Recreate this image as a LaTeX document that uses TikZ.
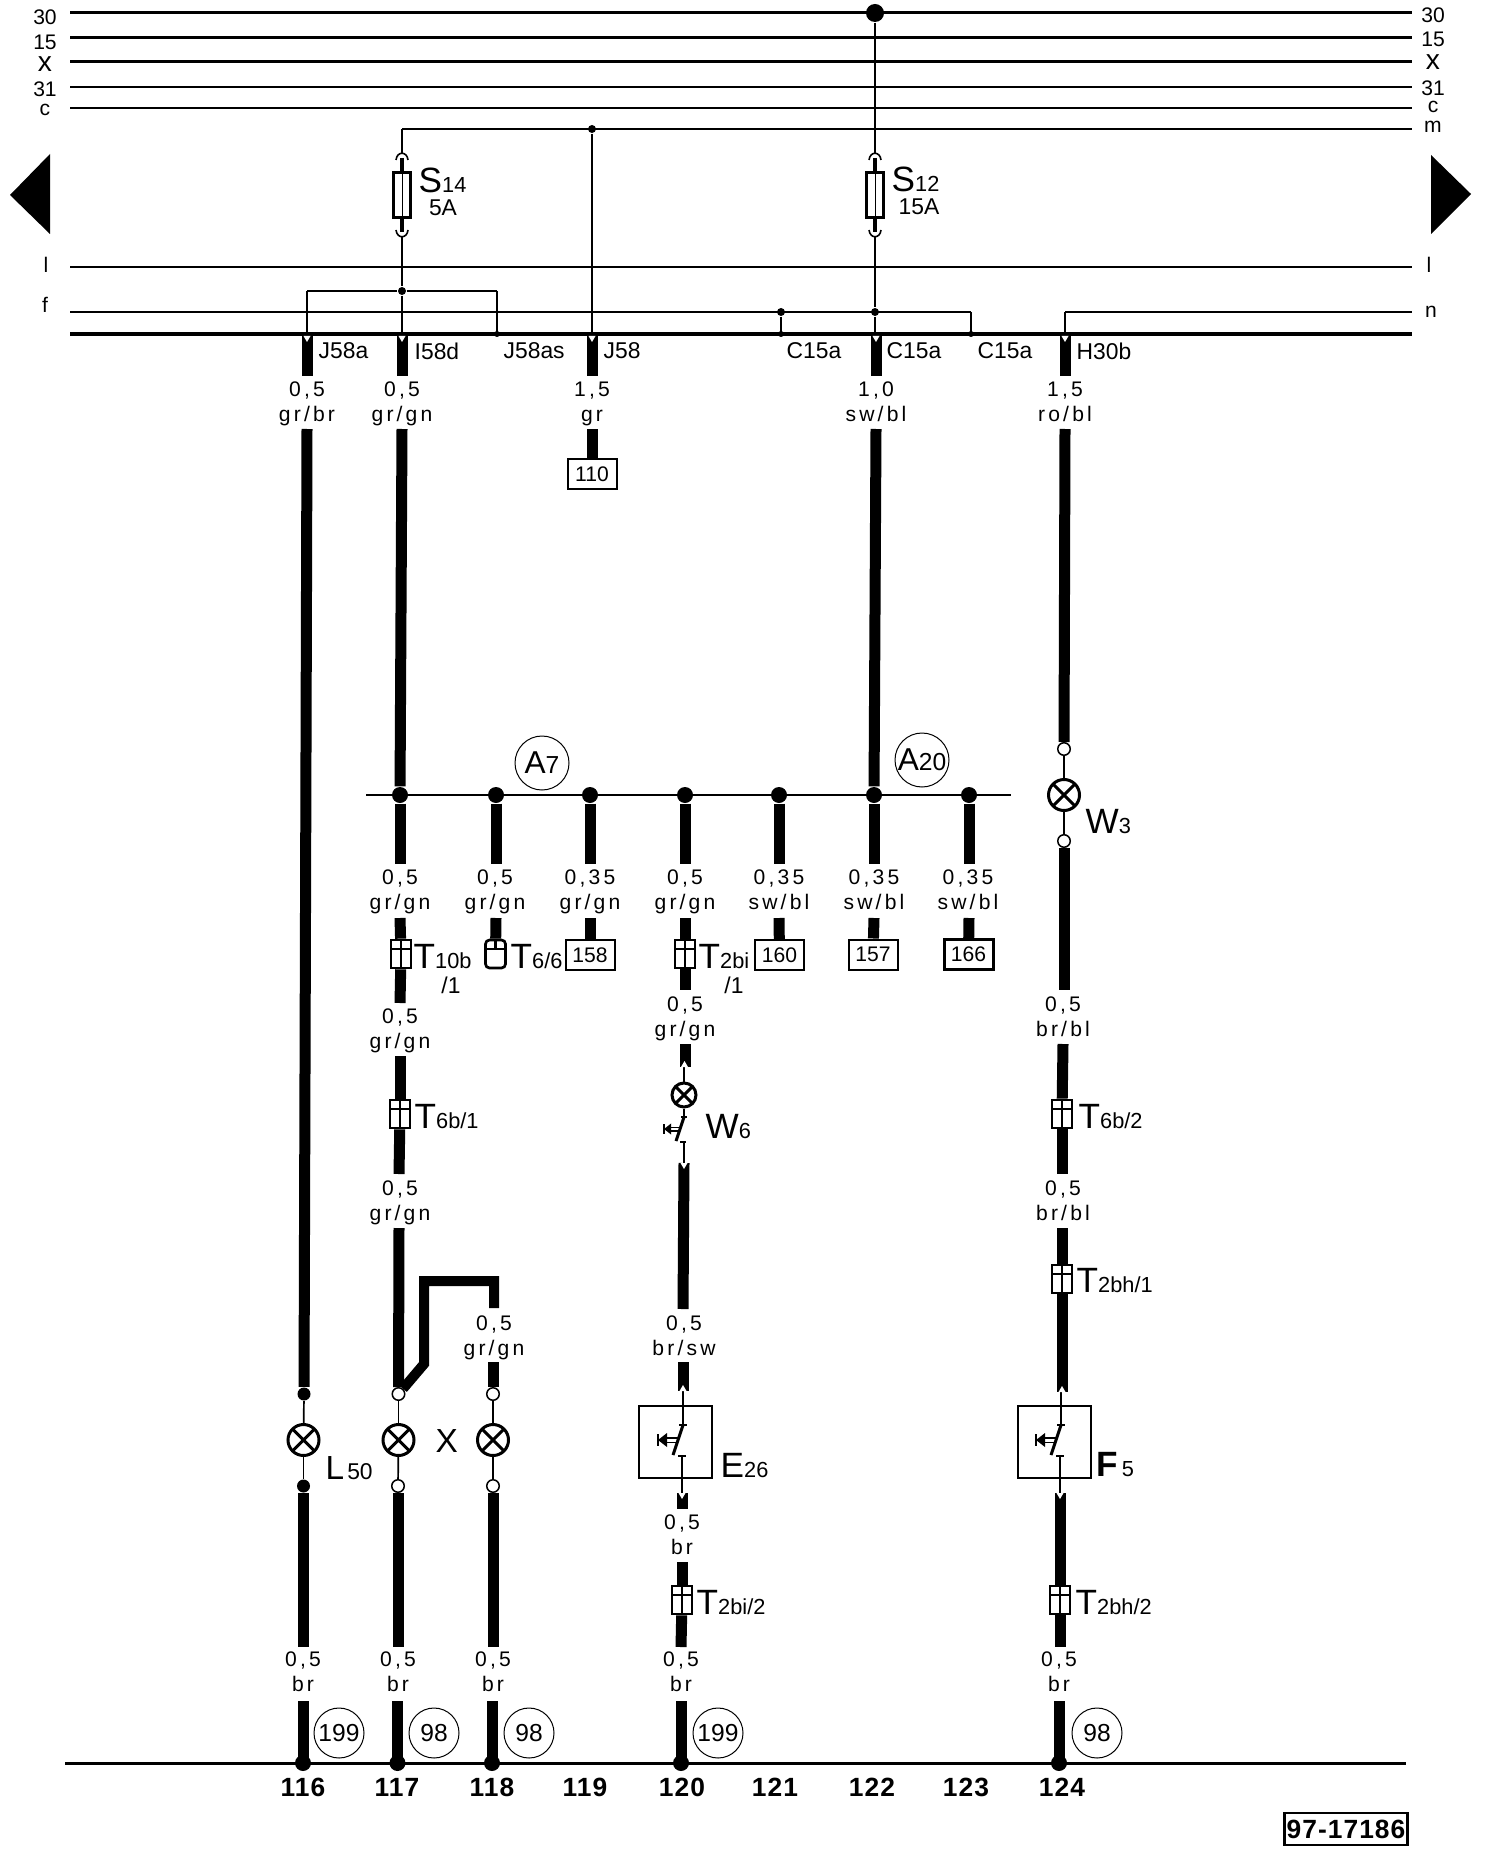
\documentclass[tikz,border=0pt]{standalone}
\usepackage{fontspec}
\setmainfont{Liberation Sans}
\newfontfamily\wirefont[LetterSpace=15]{Liberation Sans}
\newfontfamily\numfont[LetterSpace=4]{Liberation Sans}
\newcommand{\bigsub}[2]{\fontsize{10}{10}\selectfont #1\fontsize{6.2}{7}\selectfont #2}
\tikzset{
  wire/.style={line width=1.1mm},
  bus/.style={line width=.3mm},
  thinw/.style={line width=.17mm},
  busl/.style={font=\fontsize{6}{7}\selectfont,inner sep=0pt},
  pinl/.style={font=\fontsize{6.5}{7}\selectfont,anchor=west,inner sep=0pt},
  wlabel/.style={font=\wirefont\fontsize{6}{7}\selectfont,align=center,inner sep=0pt,yshift=-.3mm,execute at end node={\vphantom{g}}},
  tag/.style={anchor=base west,inner sep=0pt},
  smalltag/.style={font=\fontsize{6.5}{7}\selectfont,inner sep=0pt},
  colnum/.style={font=\numfont\bfseries\fontsize{7.5}{8}\selectfont,inner sep=0pt},
  refcircle/.style={circle,draw,line width=.1mm,minimum size=5mm,inner sep=0pt,font=\fontsize{7}{8}\selectfont},
  loccircle/.style={circle,draw,line width=.1mm,minimum size=5.4mm,inner sep=0pt,font=\fontsize{9}{9}\selectfont},
  refbox/.style={rectangle,draw,line width=.2mm,fill=white,minimum width=4.9mm,minimum height=3mm,inner sep=0pt,font=\fontsize{6}{7}\selectfont},
  junc/.style={circle,fill,inner sep=0pt,minimum size=.8mm},
  bigdot/.style={circle,fill,inner sep=0pt,minimum size=1.6mm},
  opendot/.style={circle,draw,fill=white,line width=.15mm,inner sep=0pt,minimum size=1.25mm},
  lamp/.style={circle,draw,fill=white,line width=.3mm,inner sep=0pt,minimum size=3.1mm,
    path picture={\draw[line width=.3mm] (path picture bounding box.north west) -- (path picture bounding box.south east)
      (path picture bounding box.north east) -- (path picture bounding box.south west);}},
  conn/.style={rectangle,draw,fill=white,line width=.27mm,inner sep=0pt,minimum width=2mm,minimum height=2.8mm,
    path picture={\draw[line width=.2mm] (path picture bounding box.north) -- (path picture bounding box.south)
      ([yshift=-.9mm]path picture bounding box.north west) -- ([yshift=-.9mm]path picture bounding box.north east);}},
  connb/.style={rectangle,draw,fill=white,rounded corners=.4mm,line width=.27mm,inner sep=0pt,minimum width=2mm,minimum height=2.8mm,
    path picture={\draw[line width=.25mm] (path picture bounding box.north) -- ([yshift=-.9mm]path picture bounding box.north)
      ([yshift=-.9mm]path picture bounding box.north west) -- ([yshift=-.9mm]path picture bounding box.north east);}},
  fuse/.style={rectangle,draw,fill=white,line width=.22mm,inner sep=0pt,minimum width=1.7mm,minimum height=4.5mm,
    path picture={\draw[line width=.1mm] (path picture bounding box.north) -- (path picture bounding box.south);}},
  swbox/.style={rectangle,draw,line width=.2mm,minimum width=7.3mm,minimum height=7.2mm,inner sep=0pt},
  fusecap/.pic={
    \draw[line width=.16mm] (-6,7) .. controls (-5,-2) and (5,-2) .. (6,7);
    \draw[line width=.35mm] (0,5) -- (0,20);},
  swsym/.pic={
    \draw[line width=.3mm] (0,0) -- (-10,30);
    \draw[line width=.22mm] (-4,0) -- (4,0);
    \draw[line width=.17mm] (-16,13) -- (-4,13) (-16,17.5) -- (-6,17.5);
    \fill (-16,8) -- (-25,15) -- (-16,22) -- cycle;
    \draw[line width=.25mm] (-25,9) -- (-25,21);
    \draw[line width=.22mm] (-5,31) -- (3,31);},
  wnotch/.pic={\fill[white] (-3.5,0) -- (0,-6) -- (3.5,0) -- cycle;},
}
\begin{document}
\begin{tikzpicture}[x=0.1mm,y=-0.1mm]
  \useasboundingbox (0,0) rectangle (1488,1852);

  % bus lines
  \coordinate (b30l) at (70,13);    \coordinate (b30r) at (1412,13);
  \coordinate (b15l) at (70,38);    \coordinate (b15r) at (1412,38);
  \coordinate (bxl) at (70,62);     \coordinate (bxr) at (1412,62);
  \coordinate (b31l) at (70,87);    \coordinate (b31r) at (1412,87);
  \coordinate (bcl) at (70,108);    \coordinate (bcr) at (1412,108);
  \coordinate (bml) at (402,129);   \coordinate (bmr) at (1412,129);
  \coordinate (bll) at (70,267);    \coordinate (blr) at (1412,267);
  \coordinate (bfl) at (70,312);    \coordinate (bfr) at (971,312);
  \coordinate (bnl) at (1065,312);  \coordinate (bnr) at (1412,312);
  \coordinate (bgl) at (70,334);    \coordinate (bgr) at (1412,334);
  \coordinate (gl) at (65,1763);    \coordinate (gr) at (1406,1763);

  \draw[bus] (b30l) -- (b30r);
  \draw[bus] (b15l) -- (b15r);
  \draw[bus] (bxl) -- (bxr);
  \draw[line width=.26mm] (b31l) -- (b31r);
  \draw[line width=.22mm] (bcl) -- (bcr);
  \draw[line width=.2mm] (bml) -- (bmr);
  \draw[thinw] (bll) -- (blr);
  \draw[thinw] (bfl) -- (bfr);
  \draw[thinw] (bnl) -- (bnr);
  \draw[line width=.35mm] (bgl) -- (bgr);
  \draw[line width=.3mm] (gl) -- (gr);

  % bus names
  \node[busl] (n30a) at (45,17) {30};
  \node[busl] (n15a) at (45,42) {15};
  \node[busl,font=\fontsize{8}{8}\selectfont] (nxa) at (45,64) {x};
  \node[busl] (n31a) at (45,89) {31};
  \node[busl] (nca) at (45,110) {c};
  \node[busl] (nla) at (46,265) {l};
  \node[busl] (nfa) at (45,305) {f};
  \node[busl] (n30b) at (1433,15) {30};
  \node[busl] (n15b) at (1433,39) {15};
  \node[busl,font=\fontsize{8}{8}\selectfont] (nxb) at (1433,62) {x};
  \node[busl] (n31b) at (1433,88) {31};
  \node[busl] (ncb) at (1433,107) {c};
  \node[busl] (nmb) at (1433,127) {m};
  \node[busl] (nlb) at (1429,265) {l};
  \node[busl] (nnb) at (1431,312) {n};

  % page arrows
  \fill (50,154) -- (10,195) -- (50,234) -- cycle;
  \fill (1431,155) -- (1471,194) -- (1431,234) -- cycle;

  % fuses
  \node[fuse] (s14) at (402,195) {};
  \node[fuse] (s12) at (875,195) {};
  \coordinate (s14t) at (402,153);  \coordinate (s14b) at (402,237);
  \coordinate (s12t) at (875,153);  \coordinate (s12b) at (875,237);
  \pic at (402,153) {fusecap};
  \pic[yscale=-1] at (402,237) {fusecap};
  \pic at (875,153) {fusecap};
  \pic[yscale=-1] at (875,237) {fusecap};
  \node[tag] (s14n) at (418,193) {\bigsub{S}{14}};
  \node[smalltag] (s14a) at (443,208) {5A};
  \node[tag] (s12n) at (891,192) {\bigsub{S}{12}};
  \node[smalltag] (s12a) at (919,207) {15A};

  % junctions on the upper rails
  \node[bigdot,minimum size=1.8mm] (d30) at (875,13) {};
  \node[junc] (dm) at (592,129) {};
  \node[junc] (d14) at (402,291) {};
  \node[junc] (dc1) at (781,312) {};
  \node[junc] (dc2) at (875,312) {};
  \coordinate (m14) at (402,129);
  \coordinate (br1) at (307,291);   \coordinate (br2) at (497,291);
  \coordinate (br1g) at (307,334);  \coordinate (br2g) at (497,334);
  \coordinate (g14) at (402,334);   \coordinate (g58) at (592,334);
  \coordinate (gc1) at (781,334);   \coordinate (gc2) at (875,334);
  \coordinate (gc3) at (971,334);   \coordinate (gh) at (1065,334);
  \coordinate (fc3) at (971,312);

  \draw[thinw] (m14) -- (s14t);
  \draw[thinw] (s14b) -- (d14);
  \draw[thinw] (d14) -- (g14);
  \draw[thinw] (br1) -- (d14);
  \draw[thinw] (d14) -- (br2);
  \draw[thinw] (br1) -- (br1g);
  \draw[thinw] (br2) -- (br2g);
  \draw[thinw] (dm) -- (g58);
  \draw[thinw] (d30) -- (s12t);
  \draw[thinw] (s12b) -- (dc2);
  \draw[thinw] (dc2) -- (gc2);
  \draw[thinw] (dc1) -- (gc1);
  \draw[thinw] (fc3) -- (gc3);
  \draw[thinw] (bnl) -- (gh);
  \node[junc,minimum size=.6mm] (jb2) at (br2g) {};
  \node[junc,minimum size=.6mm] (jc1) at (gc1) {};
  \node[junc,minimum size=.6mm] (jc3) at (gc3) {};

  % pin names
  \node[pinl] (p1) at (318,351) {J58a};
  \node[pinl] (p2) at (414,351) {I58d};
  \node[pinl] (p3) at (503,351) {J58as};
  \node[pinl] (p4) at (603,351) {J58};
  \node[pinl] (p5) at (786,351) {C15a};
  \node[pinl] (p6) at (886,351) {C15a};
  \node[pinl] (p7) at (977,351) {C15a};
  \node[pinl] (p8) at (1076,351) {H30b};

  % wire labels, top row
  \node[wlabel] (l1) at (307,401) {0,5\\gr/br};
  \node[wlabel] (l2) at (402,401) {0,5\\gr/gn};
  \node[wlabel] (l3) at (592,401) {1,5\\gr};
  \node[wlabel] (l4) at (876,401) {1,0\\sw/bl};
  \node[wlabel] (l5) at (1065,401) {1,5\\ro/bl};
  % row under splice
  \node[wlabel] (l6) at (400,889) {0,5\\gr/gn};
  \node[wlabel] (l7) at (495,889) {0,5\\gr/gn};
  \node[wlabel] (l8) at (590,889) {0,35\\gr/gn};
  \node[wlabel] (l9) at (685,889) {0,5\\gr/gn};
  \node[wlabel] (l10) at (779,889) {0,35\\sw/bl};
  \node[wlabel] (l11) at (874,889) {0,35\\sw/bl};
  \node[wlabel] (l12) at (968,889) {0,35\\sw/bl};
  % further down
  \node[wlabel] (l13) at (400,1028) {0,5\\gr/gn};
  \node[wlabel] (l14) at (685,1016) {0,5\\gr/gn};
  \node[wlabel] (l15) at (1063,1016) {0,5\\br/bl};
  \node[wlabel] (l16) at (400,1200) {0,5\\gr/gn};
  \node[wlabel] (l17) at (1063,1200) {0,5\\br/bl};
  \node[wlabel] (l18) at (494,1335) {0,5\\gr/gn};
  \node[wlabel] (l19) at (684,1335) {0,5\\br/sw};
  \node[wlabel] (l20) at (682,1534) {0,5\\br};
  \node[wlabel] (l21) at (303,1671) {0,5\\br};
  \node[wlabel] (l22) at (398,1671) {0,5\\br};
  \node[wlabel] (l23) at (493,1671) {0,5\\br};
  \node[wlabel] (l24) at (681,1671) {0,5\\br};
  \node[wlabel] (l25) at (1059,1671) {0,5\\br};

  % splice line
  \coordinate (spl) at (366,795);   \coordinate (spr) at (1011,795);
  \draw[thinw] (spl) -- (spr);
  \node[bigdot] (sp2) at (400,795) {};
  \node[bigdot] (sp3) at (496,795) {};
  \node[bigdot] (sp4) at (590,795) {};
  \node[bigdot] (sp5) at (685,795) {};
  \node[bigdot] (sp6) at (779,795) {};
  \node[bigdot] (sp7) at (874,795) {};
  \node[bigdot] (sp8) at (969,795) {};
  \node[loccircle] (a7) at (542,763) {A\fontsize{7}{7}\selectfont 7};
  \node[loccircle] (a20) at (922,760) {A\fontsize{7}{7}\selectfont 20};

  % connectors and target boxes
  \node[conn] (t10b) at (401,954) {};
  \node[tag] (t10bn) at (413,968) {\bigsub{T}{10b}};
  \node[smalltag] (t10bs) at (451,985) {/1};
  \node[connb] (t66) at (495.5,954) {};
  \node[tag] (t66n) at (510,968) {\bigsub{T}{6/6}};
  \node[refbox] (r158) at (590,955) {158};
  \node[conn] (t2bi) at (685,954) {};
  \node[tag] (t2bin) at (698,968) {\bigsub{T}{2bi}};
  \node[smalltag] (t2bis) at (734,985) {/1};
  \node[refbox] (r160) at (779.5,955) {160};
  \node[refbox] (r157) at (873,954.5) {157};
  \node[refbox,line width=.3mm] (r166) at (968.5,954.5) {166};
  \node[refbox] (r110) at (592,474) {110};
  \node[conn] (t6b1) at (400,1114) {};
  \node[tag] (t6b1n) at (414,1128) {\bigsub{T}{6b/1}};
  \node[conn] (t6b2) at (1062,1114) {};
  \node[tag] (t6b2n) at (1078,1128) {\bigsub{T}{6b/2}};
  \node[conn] (t2bh1) at (1062,1279) {};
  \node[tag] (t2bh1n) at (1076,1292) {\bigsub{T}{2bh/1}};
  \node[conn] (t2bh2) at (1060,1600) {};
  \node[tag] (t2bh2n) at (1075,1614) {\bigsub{T}{2bh/2}};
  \node[conn] (t2bi2) at (682,1600) {};
  \node[tag] (t2bi2n) at (696,1614) {\bigsub{T}{2bi/2}};

  % lamps
  \node[lamp] (l50) at (303.5,1440) {};
  \node[lamp] (xa) at (398.5,1440) {};
  \node[lamp] (xb) at (493,1440) {};
  \node[lamp] (w3) at (1064,795) {};
  \node[lamp,minimum size=2.4mm] (w6) at (684,1095) {};
  \node[bigdot,minimum size=1.3mm] (l50t) at (304,1394) {};
  \node[bigdot,minimum size=1.3mm] (l50b) at (303.5,1486) {};
  \node[opendot] (xat) at (398.5,1394) {};
  \node[opendot] (xab) at (398,1486) {};
  \node[opendot] (xbt) at (493,1394) {};
  \node[opendot] (xbb) at (493,1486) {};
  \node[opendot] (w3t) at (1064,749) {};
  \node[opendot] (w3b) at (1064,841) {};
  \node[tag] (l50n) at (325,1479) {\fontsize{9.5}{10}\selectfont L\hspace{.3mm}\fontsize{6.5}{7}\selectfont 50};
  \node[tag,font=\fontsize{9.5}{10}\selectfont] (xn) at (435,1452) {X};
  \node[tag] (w3n) at (1085,833) {\bigsub{W}{3}};
  \node[tag] (w6n) at (705,1138) {\bigsub{W}{6}};

  \draw[thinw] (l50t) -- (l50);
  \draw[thinw] (l50) -- (l50b);
  \draw[thinw] (xat) -- (xa);
  \draw[thinw] (xa) -- (xab);
  \draw[thinw] (xbt) -- (xb);
  \draw[thinw] (xb) -- (xbb);
  \draw[thinw] (w3t) -- (w3);
  \draw[thinw] (w3) -- (w3b);

  % switches
  \node[swbox] (e26) at (675,1442) {};
  \node[swbox] (f5) at (1054,1442) {};
  \node[tag] (e26n) at (720,1477) {\fontsize{10}{10}\selectfont E\fontsize{6.2}{7}\selectfont 26};
  \node[tag] (f5n) at (1096,1476) {\fontsize{10}{10}\selectfont\bfseries F\mdseries\fontsize{6.2}{7}\selectfont\,5};
  \pic at (683,1425) {swsym};
  \pic at (1061,1425) {swsym};
  \pic[scale=.8] at (684,1117) {swsym};
  \coordinate (e26a) at (683,1391); \coordinate (e26b) at (683,1425);
  \coordinate (e26c) at (682,1456); \coordinate (e26d) at (682,1493);
  \coordinate (f5a) at (1061,1392); \coordinate (f5b) at (1061,1425);
  \coordinate (f5c) at (1060,1456); \coordinate (f5d) at (1060,1493);
  \coordinate (w6a) at (684,1067);  \coordinate (w6c) at (684,1117);
  \coordinate (w6d) at (684,1141);  \coordinate (w6e) at (684,1163);
  \draw[thinw] (e26a) -- (e26b);
  \draw[thinw] (e26c) -- (e26d);
  \draw[thinw] (f5a) -- (f5b);
  \draw[thinw] (f5c) -- (f5d);
  \draw[line width=.25mm] (w6a) -- (w6);
  \draw[thinw] (w6) -- (w6c);
  \draw[thinw] (w6d) -- (w6e);

  % column 116
  \coordinate (a1) at (307,334);    \coordinate (a2) at (307,376);
  \coordinate (a3) at (307,429);    \coordinate (a4) at (303.5,1647);
  \coordinate (a5) at (303,1701);   \coordinate (a6) at (303,1763);
  \draw[wire] (a1) -- (a2);
  \draw[wire] (a3) -- (l50t);
  \draw[wire] (l50b) -- (a4);
  \draw[wire] (a5) -- (a6);
  % column 117
  \coordinate (b1) at (402,334);    \coordinate (b2) at (402,376);
  \coordinate (b3) at (402,429);    \coordinate (b4) at (400,864);
  \coordinate (b5) at (400,918);    \coordinate (b6) at (400,1003);
  \coordinate (b7) at (400,1056);   \coordinate (b8) at (399,1174);
  \coordinate (b9) at (399,1228);   \coordinate (b10) at (398,1647);
  \coordinate (b11) at (397.5,1701);  \coordinate (b12) at (397.5,1763);
  \draw[wire] (b1) -- (b2);
  \draw[wire] (b3) -- (sp2);
  \draw[wire] (sp2) -- (b4);
  \draw[wire] (b5) -- (t10b);
  \draw[wire] (t10b) -- (b6);
  \draw[wire] (b7) -- (t6b1);
  \draw[wire] (t6b1) -- (b8);
  \draw[wire] (b9) -- (xat);
  \draw[wire] (xab) -- (b10);
  \draw[wire] (b11) -- (b12);
  % cross link to the second lamp of X
  \coordinate (x1) at (424,1364);   \coordinate (x2) at (424,1281);
  \coordinate (x3) at (494,1281);   \coordinate (x4) at (494,1308);
  \coordinate (x5) at (493,1362);
  \draw[line width=1mm] (xat) -- (x1) -- (x2) -- (x3) -- (x4);
  \draw[wire] (x5) -- (xbt);
  % column 118
  \coordinate (c1) at (496,864);    \coordinate (c2) at (496,918);
  \coordinate (c3) at (493,1647);   \coordinate (c4) at (492,1701);
  \coordinate (c5) at (492,1763);
  \draw[wire] (sp3) -- (c1);
  \draw[wire] (c2) -- (t66);
  \draw[wire] (xbb) -- (c3);
  \draw[wire] (c4) -- (c5);
  % J58 and 158
  \coordinate (d1) at (592,334);    \coordinate (d2) at (592,376);
  \coordinate (d3) at (592,429);    \coordinate (d4) at (590,864);
  \coordinate (d5) at (590,918);
  \draw[wire] (d1) -- (d2);
  \draw[wire] (d3) -- (r110);
  \draw[wire] (sp4) -- (d4);
  \draw[wire] (d5) -- (r158);
  % column 120
  \coordinate (e1) at (685,864);    \coordinate (e2) at (685,918);
  \coordinate (e3) at (685,990);    \coordinate (e4) at (685,1044);
  \coordinate (e5) at (685,1067);   \coordinate (e6) at (684,1163);
  \coordinate (e7) at (683,1309);   \coordinate (e8) at (683,1362);
  \coordinate (e9) at (683,1391);   \coordinate (e10) at (682,1493);
  \coordinate (e11) at (682,1509);  \coordinate (e12) at (682,1562);
  \coordinate (e13) at (681,1647);  \coordinate (e14) at (681,1701);
  \coordinate (e15) at (681,1763);
  \draw[wire] (sp5) -- (e1);
  \draw[wire] (e2) -- (t2bi);
  \draw[wire] (t2bi) -- (e3);
  \draw[wire] (e4) -- (e5);
  \draw[wire] (e6) -- (e7);
  \draw[wire] (e8) -- (e9);
  \draw[wire] (e10) -- (e11);
  \draw[wire] (e12) -- (t2bi2);
  \draw[wire] (t2bi2) -- (e13);
  \draw[wire] (e14) -- (e15);
  % 160, 157, 166
  \coordinate (f1) at (779,864);    \coordinate (f2) at (779,918);
  \coordinate (g1) at (876,334);    \coordinate (g2) at (876,376);
  \coordinate (g3) at (876,429);    \coordinate (g4) at (874,864);
  \coordinate (g5) at (874,918);
  \coordinate (h1) at (969,864);    \coordinate (h2) at (969,918);
  \draw[wire] (sp6) -- (f1);
  \draw[wire] (f2) -- (r160);
  \draw[wire] (g1) -- (g2);
  \draw[wire] (g3) -- (sp7);
  \draw[wire] (sp7) -- (g4);
  \draw[wire] (g5) -- (r157);
  \draw[wire] (sp8) -- (h1);
  \draw[wire] (h2) -- (r166);
  % column 124
  \coordinate (k1) at (1065,334);   \coordinate (k2) at (1065,376);
  \coordinate (k3) at (1065,429);   \coordinate (k4) at (1064,990);
  \coordinate (k5) at (1063,1044);  \coordinate (k6) at (1062,1174);
  \coordinate (k7) at (1062,1228);  \coordinate (k8) at (1062,1392);
  \coordinate (k9) at (1060,1493);  \coordinate (k10) at (1060,1647);
  \coordinate (k11) at (1059,1701); \coordinate (k12) at (1059,1763);
  \draw[wire] (k1) -- (k2);
  \draw[wire] (k3) -- (w3t);
  \draw[wire] (w3b) -- (k4);
  \draw[wire] (k5) -- (t6b2);
  \draw[wire] (t6b2) -- (k6);
  \draw[wire] (k7) -- (t2bh1);
  \draw[wire] (t2bh1) -- (k8);
  \draw[wire] (k9) -- (t2bh2);
  \draw[wire] (t2bh2) -- (k10);
  \draw[wire] (k11) -- (k12);

  % white cuts where thin leads enter a wire
  \pic[yscale=-1] at (307,336) {wnotch};
  \pic[yscale=-1] at (402,336) {wnotch};
  \pic[yscale=-1] at (592,336) {wnotch};
  \pic[yscale=-1] at (876,336) {wnotch};
  \pic[yscale=-1] at (1065,336) {wnotch};
  \pic at (684.5,1067) {wnotch};
  \pic[yscale=-1] at (684,1163) {wnotch};
  \pic at (683,1391) {wnotch};
  \pic[yscale=-1] at (682,1493) {wnotch};
  \pic at (1062,1392) {wnotch};
  \pic[yscale=-1] at (1060,1493) {wnotch};

  % ground dots
  \node[bigdot] (g116) at (303,1763) {};
  \node[bigdot] (g117) at (397.5,1763) {};
  \node[bigdot] (g118) at (492,1763) {};
  \node[bigdot] (g120) at (681,1763) {};
  \node[bigdot] (g124) at (1059,1763) {};

  % page refs
  \node[refcircle] (c199a) at (339,1733) {199};
  \node[refcircle] (c98a) at (434,1733) {98};
  \node[refcircle] (c98b) at (529,1733) {98};
  \node[refcircle] (c199b) at (718,1733) {199};
  \node[refcircle] (c98c) at (1097,1733) {98};

  % column numbers
  \node[colnum] (k116) at (303,1787) {116};
  \node[colnum] (k117) at (397,1787) {117};
  \node[colnum] (k118) at (492,1787) {118};
  \node[colnum] (k119) at (585,1787) {119};
  \node[colnum] (k120) at (682,1787) {120};
  \node[colnum] (k121) at (775,1787) {121};
  \node[colnum] (k122) at (872,1787) {122};
  \node[colnum] (k123) at (966,1787) {123};
  \node[colnum] (k124) at (1062,1787) {124};

  \node[rectangle,draw,line width=.25mm,minimum width=12.3mm,minimum height=3.2mm,inner sep=0pt,font=\numfont\bfseries\fontsize{7.5}{8}\selectfont] (drawno) at (1346,1829) {97-17186};
\end{tikzpicture}
\end{document}
